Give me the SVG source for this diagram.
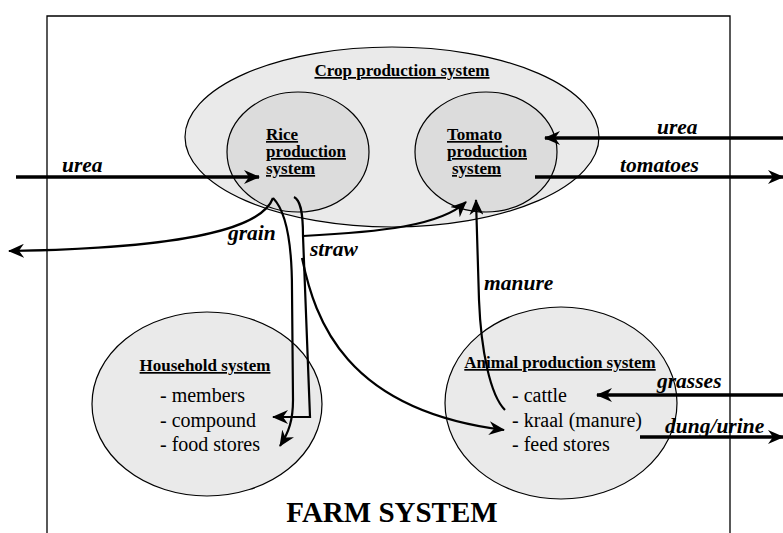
<svg xmlns="http://www.w3.org/2000/svg" width="783" height="533" viewBox="0 0 783 533" font-family="Liberation Serif, Times New Roman, serif">
<defs>
<style>
.frame{fill:none;stroke:#000;stroke-width:1.3}
.outer{fill:#eaeaea;stroke:#000;stroke-width:1.2}
.inner{fill:#dcdcdc;stroke:#000;stroke-width:1.2}
.title{font-weight:bold;font-size:17px;text-decoration:underline;fill:#000}
.item{font-size:20px;fill:#000}
.lbl{font-weight:bold;font-style:italic;font-size:21.5px;fill:#000}
.thick{fill:none;stroke:#000;stroke-width:3.5;marker-end:url(#ah)}
.thin{fill:none;stroke:#000;stroke-width:2.2;marker-end:url(#ah)}
</style>
<marker id="ah" markerUnits="userSpaceOnUse" markerWidth="16" markerHeight="14" viewBox="0 0 16 14" refX="15" refY="7" orient="auto">
<path d="M0,0 L16,7 L0,14 L5,7 Z" fill="#000"/>
</marker>
</defs>
<rect width="783" height="533" fill="#fff"/>
<path class="frame" d="M47,533 L47,16 L730,16 L730,533"/>

<g id="crop">
<ellipse class="outer" cx="392" cy="137" rx="207" ry="90"/>
<text class="title" x="402" y="76" text-anchor="middle">Crop production system</text>
</g>
<g id="rice">
<ellipse class="inner" cx="298" cy="152" rx="71" ry="60"/>
<text class="title" x="266" y="140">Rice</text>
<text class="title" x="266" y="157">production</text>
<text class="title" x="266" y="174">system</text>
</g>
<g id="tomato">
<ellipse class="inner" cx="486" cy="152" rx="71" ry="60"/>
<text class="title" x="447" y="140">Tomato</text>
<text class="title" x="447" y="157">production</text>
<text class="title" x="452" y="174">system</text>
</g>
<g id="household">
<ellipse class="outer" cx="207" cy="404" rx="115" ry="92"/>
<text class="title" x="205" y="371" text-anchor="middle">Household system</text>
<text class="item" x="160" y="402">- members</text>
<text class="item" x="160" y="427">- compound</text>
<text class="item" x="160" y="451">- food stores</text>
</g>
<g id="animal">
<ellipse class="outer" cx="561" cy="403" rx="116" ry="96"/>
<text class="title" x="560" y="368" text-anchor="middle">Animal production system</text>
<text class="item" x="512" y="402">- cattle</text>
<text class="item" x="512" y="427">- kraal (manure)</text>
<text class="item" x="512" y="451">- feed stores</text>
</g>
<g id="farm">
<text x="392" y="522" text-anchor="middle" font-weight="bold" font-size="29">FARM SYSTEM</text>
</g>

<g id="connectors">
<path class="thick" d="M16,177 L259,177"/>
<path class="thick" d="M783,138 L545,138"/>
<path class="thick" d="M535,177 L783,177"/>
<path class="thick" d="M783,395 L597,395"/>
<path class="thick" d="M640,437 L783,437"/>
<path class="thin" d="M273,198 C 262,228 190,248 9,251"/>
<path class="thin" d="M273,198 C 285,210 292,240 292,290 L 293,400 C 293,420 289,432 280,446"/>
<path class="thin" d="M294,197 C 300,200 303,210 303,236 L 310,417 L 273,417"/>
<path class="thin" d="M303,236 C 380,232 440,226 466,202"/>
<path class="thin" d="M302,258 C 315,320 345,410 504,430"/>
<path class="thin" d="M505,410 C 490,395 481,350 479,300 L 476,200"/>
<text class="lbl" x="62" y="172">urea</text>
<text class="lbl" x="657" y="134">urea</text>
<text class="lbl" x="620" y="172">tomatoes</text>
<text class="lbl" x="228" y="240">grain</text>
<text class="lbl" x="310" y="256">straw</text>
<text class="lbl" x="484" y="290">manure</text>
<text class="lbl" x="657" y="388">grasses</text>
<text class="lbl" x="665" y="433">dung/urine</text>
</g>
</svg>
